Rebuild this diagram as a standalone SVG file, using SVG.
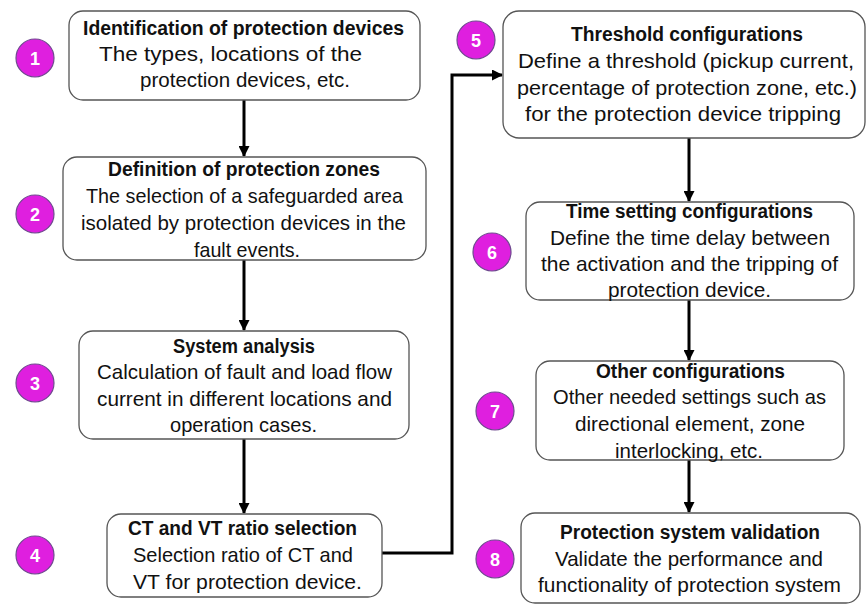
<svg xmlns="http://www.w3.org/2000/svg" width="866" height="606" viewBox="0 0 866 606">
<style>
.box{fill:#fff;stroke:#555;stroke-width:1.3}
.t{font-family:"Liberation Sans",Arial,sans-serif;font-size:21px;fill:#111;text-anchor:middle}
.b{font-weight:bold;font-size:19.5px}
.c{fill:#df1fdf;stroke:#6f4a8f;stroke-width:1.2}
.n{font-family:"Liberation Sans",Arial,sans-serif;font-size:18px;font-weight:bold;fill:#fff;text-anchor:middle}
.e{fill:none;stroke:#000;stroke-width:3;marker-end:url(#ah)}
</style>
<defs>
<marker id="ah" markerUnits="userSpaceOnUse" markerWidth="11" markerHeight="11" refX="10" refY="5.5" orient="auto">
<path d="M0,0 L11,5.5 L0,11 z" fill="#000"/>
</marker>
</defs>
<rect width="866" height="606" fill="#fff"/>
<g id="connectors">
<line class="e" x1="244" y1="100" x2="244" y2="156"/>
<line class="e" x1="244" y1="260" x2="244" y2="330"/>
<line class="e" x1="244" y1="439" x2="244" y2="513"/>
<polyline class="e" points="382,553 452,553 452,75 502,75"/>
<line class="e" x1="689" y1="138" x2="689" y2="201"/>
<line class="e" x1="689" y1="300" x2="689" y2="360"/>
<line class="e" x1="689" y1="460" x2="689" y2="512"/>
</g>
<g id="node1">
<rect class="box" x="69" y="11" width="351" height="89" rx="14"/>
<text class="t b" x="243.5" y="35" textLength="321" lengthAdjust="spacingAndGlyphs">Identification of protection devices</text>
<text class="t" x="230.5" y="61" textLength="263" lengthAdjust="spacingAndGlyphs">The types, locations of the</text>
<text class="t" x="245" y="87" textLength="210" lengthAdjust="spacingAndGlyphs">protection devices, etc.</text>
</g>
<g id="node2">
<rect class="box" x="63" y="157" width="363" height="103" rx="14"/>
<text class="t b" x="244" y="176" textLength="272" lengthAdjust="spacingAndGlyphs">Definition of protection zones</text>
<text class="t" x="244.5" y="203" textLength="317" lengthAdjust="spacingAndGlyphs">The selection of a safeguarded area</text>
<text class="t" x="243.5" y="230" textLength="325" lengthAdjust="spacingAndGlyphs">isolated by protection devices in the</text>
<text class="t" x="247" y="257" textLength="106" lengthAdjust="spacingAndGlyphs">fault events.</text>
</g>
<g id="node3">
<rect class="box" x="79" y="331" width="330" height="108" rx="14"/>
<text class="t b" x="244" y="353" textLength="142" lengthAdjust="spacingAndGlyphs">System analysis</text>
<text class="t" x="244.5" y="379" textLength="295" lengthAdjust="spacingAndGlyphs">Calculation of fault and load flow</text>
<text class="t" x="244.5" y="406" textLength="295" lengthAdjust="spacingAndGlyphs">current in different locations and</text>
<text class="t" x="243.5" y="432" textLength="147" lengthAdjust="spacingAndGlyphs">operation cases.</text>
</g>
<g id="node4">
<rect class="box" x="107" y="514" width="275" height="83" rx="14"/>
<text class="t b" x="242.5" y="535" textLength="229" lengthAdjust="spacingAndGlyphs">CT and VT ratio selection</text>
<text class="t" x="243" y="562" textLength="220" lengthAdjust="spacingAndGlyphs">Selection ratio of CT and</text>
<text class="t" x="247.5" y="589" textLength="229" lengthAdjust="spacingAndGlyphs">VT for protection device.</text>
</g>
<g id="node5">
<rect class="box" x="503" y="11" width="362" height="127" rx="16"/>
<text class="t b" x="687" y="41" textLength="232" lengthAdjust="spacingAndGlyphs">Threshold configurations</text>
<text class="t" x="686" y="68" textLength="336" lengthAdjust="spacingAndGlyphs">Define a threshold (pickup current,</text>
<text class="t" x="687" y="95" textLength="340" lengthAdjust="spacingAndGlyphs">percentage of protection zone, etc.)</text>
<text class="t" x="683" y="121" textLength="316" lengthAdjust="spacingAndGlyphs">for the protection device tripping</text>
</g>
<g id="node6">
<rect class="box" x="526" y="202" width="328" height="98" rx="14"/>
<text class="t b" x="689.5" y="218" textLength="247" lengthAdjust="spacingAndGlyphs">Time setting configurations</text>
<text class="t" x="690" y="245" textLength="280" lengthAdjust="spacingAndGlyphs">Define the time delay between</text>
<text class="t" x="689.5" y="271" textLength="297" lengthAdjust="spacingAndGlyphs">the activation and the tripping of</text>
<text class="t" x="689.5" y="297" textLength="163" lengthAdjust="spacingAndGlyphs">protection device.</text>
</g>
<g id="node7">
<rect class="box" x="536" y="361" width="308" height="99" rx="14"/>
<text class="t b" x="690.5" y="378" textLength="189" lengthAdjust="spacingAndGlyphs">Other configurations</text>
<text class="t" x="689.5" y="404" textLength="273" lengthAdjust="spacingAndGlyphs">Other needed settings such as</text>
<text class="t" x="690" y="431" textLength="230" lengthAdjust="spacingAndGlyphs">directional element, zone</text>
<text class="t" x="689" y="458" textLength="148" lengthAdjust="spacingAndGlyphs">interlocking, etc.</text>
</g>
<g id="node8">
<rect class="box" x="521" y="513" width="339" height="90" rx="14"/>
<text class="t b" x="690" y="539" textLength="260" lengthAdjust="spacingAndGlyphs">Protection system validation</text>
<text class="t" x="689" y="566" textLength="268" lengthAdjust="spacingAndGlyphs">Validate the performance and</text>
<text class="t" x="689.5" y="592" textLength="303" lengthAdjust="spacingAndGlyphs">functionality of protection system</text>
</g>
<g id="badge1"><circle class="c" cx="35" cy="58" r="19"/><text class="n" x="35" y="64.5">1</text></g>
<g id="badge2"><circle class="c" cx="35" cy="214" r="19"/><text class="n" x="35" y="220.5">2</text></g>
<g id="badge3"><circle class="c" cx="35" cy="383" r="19"/><text class="n" x="35" y="389.5">3</text></g>
<g id="badge4"><circle class="c" cx="35" cy="555" r="19"/><text class="n" x="35" y="561.5">4</text></g>
<g id="badge5"><circle class="c" cx="476" cy="40" r="19"/><text class="n" x="476" y="46.5">5</text></g>
<g id="badge6"><circle class="c" cx="492" cy="252" r="19"/><text class="n" x="492" y="258.5">6</text></g>
<g id="badge7"><circle class="c" cx="495" cy="411" r="19"/><text class="n" x="495" y="417.5">7</text></g>
<g id="badge8"><circle class="c" cx="495" cy="559" r="19"/><text class="n" x="495" y="565.5">8</text></g>
</svg>
